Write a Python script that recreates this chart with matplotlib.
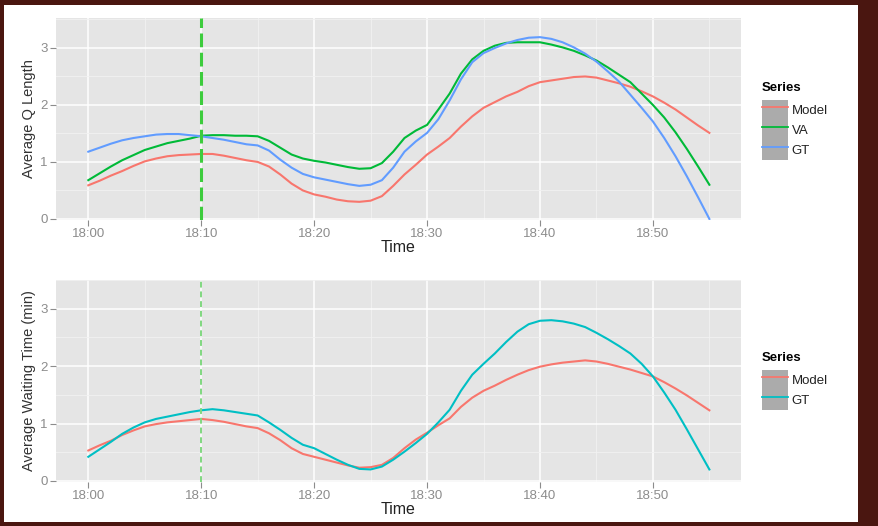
import numpy as np
import matplotlib.pyplot as plt
from matplotlib.lines import Line2D
from matplotlib.patches import Patch, Rectangle

# minutes after 18:00
minutes = list(range(0, 56))

# top panel: average queue length
q_model = [0.59, 0.67, 0.76, 0.84, 0.93, 1.01, 1.06, 1.10, 1.12, 1.13,
           1.14, 1.14, 1.11, 1.07, 1.03, 1.00, 0.92, 0.78, 0.62, 0.50,
           0.43, 0.39, 0.34, 0.31, 0.30, 0.32, 0.40, 0.58, 0.78, 0.95,
           1.13, 1.27, 1.42, 1.62, 1.80, 1.95, 2.05, 2.15, 2.23, 2.33,
           2.40, 2.43, 2.46, 2.49, 2.50, 2.48, 2.43, 2.38, 2.32, 2.24,
           2.15, 2.04, 1.92, 1.78, 1.64, 1.51]
q_va = [0.68, 0.80, 0.92, 1.03, 1.12, 1.21, 1.27, 1.33, 1.37, 1.41,
        1.46, 1.47, 1.47, 1.46, 1.46, 1.45, 1.37, 1.25, 1.13, 1.06,
        1.02, 0.99, 0.95, 0.91, 0.88, 0.89, 0.98, 1.18, 1.42, 1.55,
        1.65, 1.92, 2.20, 2.55, 2.80, 2.95, 3.04, 3.09, 3.10, 3.10,
        3.10, 3.06, 3.01, 2.95, 2.87, 2.78, 2.66, 2.53, 2.40, 2.20,
        2.00, 1.78, 1.52, 1.23, 0.92, 0.60]
q_gt = [1.18, 1.25, 1.32, 1.38, 1.42, 1.45, 1.48, 1.49, 1.49, 1.47,
        1.45, 1.42, 1.39, 1.35, 1.31, 1.29, 1.20, 1.04, 0.90, 0.79,
        0.73, 0.69, 0.65, 0.61, 0.58, 0.60, 0.68, 0.90, 1.18, 1.36,
        1.51, 1.75, 2.08, 2.45, 2.75, 2.91, 3.00, 3.08, 3.14, 3.18,
        3.19, 3.16, 3.10, 3.01, 2.90, 2.76, 2.59, 2.41, 2.18, 1.95,
        1.71, 1.42, 1.10, 0.75, 0.38, 0.00]

# bottom panel: average waiting time (min)
w_model = [0.53, 0.62, 0.70, 0.80, 0.88, 0.95, 0.99, 1.02, 1.04, 1.06,
           1.08, 1.06, 1.03, 0.99, 0.95, 0.92, 0.83, 0.71, 0.57, 0.47,
           0.42, 0.37, 0.32, 0.27, 0.23, 0.24, 0.28, 0.40, 0.57, 0.72,
           0.84, 0.97, 1.09, 1.29, 1.45, 1.57, 1.66, 1.76, 1.85, 1.93,
           1.99, 2.03, 2.06, 2.08, 2.10, 2.08, 2.04, 1.99, 1.94, 1.88,
           1.82, 1.72, 1.61, 1.49, 1.36, 1.23]
w_gt = [0.42, 0.55, 0.68, 0.82, 0.93, 1.02, 1.08, 1.12, 1.16, 1.20,
        1.23, 1.25, 1.23, 1.20, 1.17, 1.14, 1.02, 0.89, 0.75, 0.63,
        0.57, 0.47, 0.37, 0.28, 0.21, 0.20, 0.25, 0.37, 0.51, 0.66,
        0.82, 1.02, 1.24, 1.57, 1.85, 2.04, 2.22, 2.42, 2.60, 2.73,
        2.79, 2.80, 2.78, 2.74, 2.68, 2.58, 2.47, 2.35, 2.22, 2.04,
        1.82, 1.54, 1.24, 0.90, 0.55, 0.20]

tick_pos = [0, 10, 20, 30, 40, 50]
tick_labels = ['18:00', '18:10', '18:20', '18:30', '18:40', '18:50']
marker_time = 10

RED = '#F8766D'
GREEN = '#00BA38'
BLUE = '#619CFF'
CYAN = '#00BFC4'

plt.rcParams['font.family'] = ['Liberation Sans', 'DejaVu Sans']

fig = plt.figure(figsize=(8.79, 5.26), dpi=100, facecolor='#4a1610')
# white slide area
fig.patches.append(Rectangle((4 / 879, 1 - 522 / 526), 854 / 879, 517 / 526,
                             transform=fig.transFigure, facecolor='white',
                             edgecolor='none', zorder=-5))

ax1 = fig.add_axes([56 / 879, 1 - 219.5 / 526, 685 / 879, 201.5 / 526])
ax2 = fig.add_axes([56 / 879, 1 - 481.5 / 526, 685 / 879, 201.5 / 526])


def style(ax, ylim, ylabel):
    ax.set_facecolor('#E5E5E5')
    for s in ax.spines.values():
        s.set_visible(False)
    ax.set_xlim(-2.86, 57.8)
    ax.set_ylim(*ylim)
    ax.set_xticks(tick_pos)
    ax.set_xticklabels(tick_labels)
    ax.set_xticks([5, 15, 25, 35, 45, 55], minor=True)
    ax.set_yticks([0, 1, 2, 3])
    ax.set_yticks([0.5, 1.5, 2.5, 3.5], minor=True)
    ax.grid(True, which='major', color='white', lw=1.1)
    ax.grid(True, which='minor', color='#F2F2F2', lw=0.6)
    ax.set_axisbelow(True)
    ax.tick_params(which='major', length=4, width=0.8, color='#8c8c8c',
                   labelcolor='#8c8c8c', labelsize=9.5, pad=2)
    ax.tick_params(which='minor', length=0)
    ax.set_xlabel('Time', fontsize=11.5, color='#222222', labelpad=0)
    ax.set_ylabel(ylabel, fontsize=10.5, color='#333333', labelpad=3)


style(ax1, (-0.01, 3.526), 'Average Q Length')
style(ax2, (-0.01, 3.02), 'Average Waiting Time (min)')

ax1.plot(minutes, q_model, color=RED, lw=1.5)
ax1.plot(minutes, q_va, color=GREEN, lw=1.5)
ax1.plot(minutes, q_gt, color=BLUE, lw=1.5)
ax1.axvline(marker_time, color='#3DCC3D', lw=2.2, ls=(0, (4.5, 1.8)))

ax2.plot(minutes, w_model, color=RED, lw=1.5)
ax2.plot(minutes, w_gt, color=CYAN, lw=1.5)
ax2.axvline(marker_time, color='#80D880', lw=1.4, ls=(0, (3, 2)))


def legend(ax, names, colors, y):
    key_bg = '#ABABAB'
    handles = [(Patch(facecolor=key_bg, edgecolor='none'),
                Line2D([], [], color=c, lw=1.3)) for c in colors]
    leg = ax.legend(handles, names, title='Series', loc='center left',
                    bbox_to_anchor=(762 / 879, y), bbox_transform=fig.transFigure,
                    frameon=False, fontsize=9.5, handlelength=1.95,
                    handleheight=1.95, labelspacing=0, handletextpad=0.3,
                    borderpad=0, borderaxespad=0,
                    title_fontproperties={'weight': 'bold', 'size': 9.5})
    leg._legend_box.align = 'left'
    leg._legend_box.sep = 4
    for t in leg.get_texts():
        t.set_color('#222222')


legend(ax1, ['Model', 'VA', 'GT'], [RED, GREEN, BLUE], 1 - 121 / 526)
legend(ax2, ['Model', 'GT'], [RED, CYAN], 1 - 381 / 526)

fig.savefig('out.png', dpi=100, facecolor=fig.get_facecolor())
